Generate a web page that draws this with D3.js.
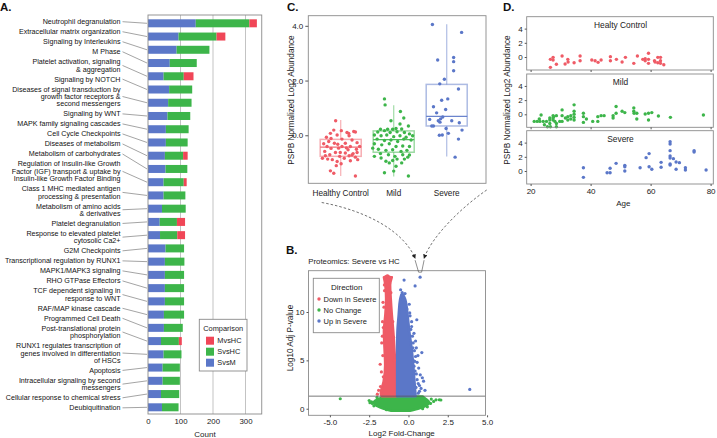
<!DOCTYPE html>
<html><head><meta charset="utf-8">
<script src="https://cdn.jsdelivr.net/npm/d3@7"></script>
<style>
body{margin:0;background:#fff;}
svg{display:block;}
</style></head><body>
<svg id="chart" width="717" height="438"></svg>
<script>
// ================= DATA =================
// Panel A: Reactome pathways, stacked counts per comparison
const pathways = [
  "Neutrophil degranulation",
  "Extracellular matrix organization",
  "Signaling by Interleukins",
  "M Phase",
  "Platelet activation, signaling\n& aggregation",
  "Signaling by NOTCH",
  "Diseases of signal transduction by\ngrowth factor receptors &\nsecond messengers",
  "Signaling by WNT",
  "MAPK family signaling cascades",
  "Cell Cycle Checkpoints",
  "Diseases of metabolism",
  "Metabolism of carbohydrates",
  "Regulation of Insulin-like Growth\nFactor (IGF) transport & uptake by\nInsulin-like Growth Factor Binding",
  "Class 1 MHC mediated antigen\nprocessing & presentation",
  "Metabolism of amino acids\n& derivatives",
  "Platelet degranulation",
  "Response to elevated platelet\ncytosolic Ca2+",
  "G2M Checkpoints",
  "Transcriptional regulation by RUNX1",
  "MAPK1/MAPK3 signaling",
  "RHO GTPase Effectors",
  "TCF dependent signaling in\nresponse to WNT",
  "RAF/MAP kinase cascade",
  "Programmed Cell Death",
  "Post-translational protein\nphosphorylation",
  "RUNX1 regulates transcription of\ngenes involved in differentiation\nof HSCs",
  "Apoptosis",
  "Intracellular signaling by second\nmessengers",
  "Cellular response to chemical stress",
  "Deubiquitination"
];
const svsM  = [147,94,88,67,48,65,62,60,55,55,52,54,48,48,43,36,37,54,52,52,52,52,49,49,40,48,45,45,40,43];
const svsHC = [165,117,101,83,62,71,72,70,70,67,56,67,62,67,73,53,53,57,60,59,59,59,62,58,55,55,53,53,56,51];
const mvsHC = [23,27,0,0,30,0,0,0,0,0,14,0,9,0,0,25,24,0,0,0,0,0,0,0,9,0,0,0,0,0];
const countTicks = [0,100,200,300];
const comparisons = ["MvsHC","SvsHC","SvsM"];

// Panel C: PSPB abundance by severity group
const groups = ["Healthy Control","Mild","Severe"];
const boxQ1 = [-0.77,-0.62,0.34];
const boxMedian = [-0.43,-0.16,0.69];
const boxQ3 = [-0.15,0.16,1.86];
const whiskerLo = [-1.49,-1.51,-0.78];
const whiskerHi = [0.56,1.10,4.06];
const hcVals = [0.53,0.17,0.10,0.14,0.12,0.19,-0.07,-0.12,0.01,-0.02,-0.14,-0.17,-0.27,-0.23,-0.31,-0.29,-0.33,-0.29,-0.41,-0.41,-0.48,-0.47,-0.41,-0.53,-0.51,-0.59,-0.63,-0.65,-0.67,-0.71,-0.77,-0.75,-0.80,-0.87,-0.89,-0.96,-0.84,-0.93,-0.89,-0.84,-1.04,-1.11,-1.30,-1.39,-1.49,0.07,0.07,-0.72,-0.75,-0.46,-0.63,-0.63,-0.41];
const hcJit  = [-0.24,0.03,0.30,0.62,0.70,-0.33,-0.68,-0.46,-0.17,0.40,0.06,0.54,0.78,-0.57,-0.81,-0.30,-0.14,0.22,0.46,-0.65,-0.46,-0.10,0.06,0.35,0.75,-0.76,-0.25,0.22,0.59,-0.52,-0.05,0.40,0.70,-0.62,-0.40,-0.17,0.17,0.46,0.81,-0.87,0.02,-0.21,-0.49,-0.33,0.70,0.38,-0.49,0.54,-0.73,0.27,0.78,-0.02,0.90];
const mildVals = [1.33,1.11,0.87,0.53,0.63,0.41,0.34,0.25,0.23,0.22,0.22,0.22,0.12,0.17,0.10,0.13,0.10,0.05,0.01,-0.02,0.01,-0.05,-0.02,-0.07,-0.02,-0.14,-0.19,-0.17,-0.23,-0.14,-0.17,-0.31,-0.35,-0.31,-0.41,-0.39,-0.41,-0.47,-0.51,-0.55,-0.53,-0.59,-0.55,-0.67,-0.71,-0.77,-0.71,-0.72,-0.77,-0.87,-0.87,-0.95,-0.92,-0.80,-1.01,-1.13,-1.31,-1.37,-1.49,-1.01,-0.83];
const mildJit  = [-0.44,-0.41,0.32,-0.13,0.48,0.30,0.70,0.11,0.38,-0.29,-0.05,-0.63,-0.76,-0.44,-0.17,0.16,0.51,0.75,-0.92,-0.60,-0.33,0,0.30,0.59,0.90,-0.79,-0.44,-0.13,0.19,0.48,0.83,-0.92,-0.57,-0.21,0.11,0.43,0.75,-1.0,-0.73,-0.37,-0.05,0.35,0.63,-0.63,-0.25,0.06,0.43,0.75,-0.92,0.51,0.16,-0.37,-0.05,0.67,0.38,0.11,0,-0.44,0.70,-0.21,-0.60];
const sevVals = [4.05,3.76,2.75,2.84,2.69,2.36,2.05,1.88,1.69,1.28,1.33,1.04,0.94,0.82,0.67,0.60,0.53,0.53,0.34,0.34,0.48,0.46,0.25,0.19,0.58,0.07,0.01,0.00,-0.14,-0.80];
const sevJit  = [-0.68,0.71,-0.43,0.33,0.33,0.33,-0.11,-0.33,0.56,-0.24,0.05,-0.63,-0.05,-0.48,-0.19,-0.29,0.24,-0.40,-0.63,-0.71,-0.32,0.60,-0.03,0.73,-0.81,0.08,-0.21,-0.35,0.56,0.40];
const abundTicks = [0,2,4];

// Panel B: volcano plot (dense cores as envelopes read per -log10 p level, plus sparse points)
const redEnvY  = [1.3,1.6,2.8,4.5,6.2,8.0,9.7,11.4,12.8,13.6];
const redEnvLo = [-1.70,-1.76,-1.58,-1.48,-1.52,-1.56,-1.47,-1.42,-1.47,-1.56];
const redEnvHi = [-0.80,-0.80,-0.80,-0.84,-0.90,-0.97,-1.06,-1.13,-1.17,-1.06];
const blueEnvY  = [1.3,2.8,4.5,6.2,8.0,9.7,11.3,11.8];
const blueEnvLo = [-0.72,-0.72,-0.72,-0.72,-0.70,-0.62,-0.53,-0.45];
const blueEnvHi = [0.45,0.38,0.30,0.20,0.05,-0.06,-0.21,-0.35];
const greenEnvY  = [-0.2,0.05,0.4,0.7,1.0,1.25];
const greenEnvLo = [-1.1,-1.65,-2.1,-2.2,-1.9,-1.6];
const greenEnvHi = [0.1,0.7,1.2,1.3,1.1,0.9];
const redPtsFC = [-1.80,-1.65,-1.62,-1.70,-1.30,-1.45,-1.20,-1.90,-1.98,-1.60,-1.52,-1.66,-1.63,-1.72,-1.78,-1.56,-1.53,-0.90,-0.95,-1.00,-1.60,-1.12,-1.36];
const redPtsP  = [4.6,9.0,11.0,6.8,13.7,13.65,13.6,1.9,1.5,3.3,12.2,7.5,5.5,3.8,2.3,10.5,12.8,5.0,7.4,9.0,8.4,12.0,13.75];
const bluePtsFC = [-0.28,0.42,0.74,-0.35,-0.30,0.05,-0.10,0.53,0.20,0.35,0.45,0.85,0.60,0.50,0.42,0.65,0.96,0.80,3.90,1.05,0.75,0.30,0.55,0.62,0.70,0.15,0.25,0.30,0.38,0.45,0.35,0.50,0.55,0.62,0.70,0.48,0.20,0.10,0.28,0.40,-0.40,-0.22,0.08,-0.5,0.88];
const bluePtsP  = [13.3,12.7,13.6,11.5,11.0,10.8,10.3,9.2,8.5,7.8,7.0,5.8,5.5,6.3,3.9,4.2,2.85,2.1,2.0,1.9,3.5,5.0,4.8,1.6,2.4,8.2,7.5,6.8,6.0,5.4,4.4,3.6,3.0,2.6,1.8,2.2,9.0,9.6,6.3,4.9,12.0,11.9,9.9,12.3,3.2];
const greenPtsFC = [-4.34,1.96,2.06,1.45,-2.35,-2.30,1.60,-2.45,1.75,-2.0,1.40,-2.2,1.2,-1.4,0.9,-2.5];
const greenPtsP  = [1.03,0.93,0.90,1.00,0.70,0.55,0.75,0.62,0.92,1.15,0.55,0.3,0.2,-0.1,0.0,0.85];
const fcTicks = [-5,-2.5,0,2.5,5];
const pTicks = [0,5,10];
const pThreshold = 1.3;
const directions = ["Down in Severe","No Change","Up in Severe"];
const pspb = {fc:0.74, p:13.6};

// Panel D: PSPB abundance vs age, per group
const hcAge = [26.6,26.6,27.5,27.5,28.6,30.5,31.5,32.4,32.5,34.5,36.5,36.5,40.4,41.5,42.5,43.5,46.6,46.6,48.6,50.5,51.6,54.4,55.6,57.4,58.2,58.2,59.3,59.3,59.3,61.3,61.5,62.4,62.4,63.3,63.3,63.3,64.4];
const hcAbund = [-1.46,-0.33,-0.05,-0.42,-1.03,0.14,-0.99,-0.33,-0.7,-0.8,0.14,-0.52,-0.42,-0.52,-0.75,-0.42,0.05,-0.52,-0.33,-0.7,-0.05,-0.89,0.14,-0.33,-0.23,-0.52,0.52,-0.33,-0.89,-0.52,-0.7,-0.05,-0.8,-0.05,-0.52,-0.89,-1.08];
const mildAge = [21.2,22.2,22.9,23.1,23.5,24.2,24.6,25.3,25.6,26.4,26.4,26.4,26.6,27.5,27.5,27.5,27.7,28.1,28.6,28.6,28.6,29.7,30.5,30.5,30.5,31.6,32.4,32.4,33.4,33.4,34.5,34.5,34.5,34.5,34.5,37.6,37.6,37.6,38.6,40.7,42.4,42.4,43.5,44.5,47.5,47.5,48.5,48.5,50.5,51.4,54.4,54.4,54.5,55.4,55.4,58.2,59.3,59.3,60.4,62.6,66.6,77.6];
const mildAbund = [-1.0,-1.0,-0.67,-1.0,-0.1,-1.0,-1.48,-1.0,-1.76,-0.52,-0.81,-1.29,-1.76,-0.19,-0.52,-0.81,-0.33,-1.0,-1.76,-1.29,-0.19,-1.0,0.62,-0.19,-1.0,-0.52,-0.33,-0.81,-0.19,-0.67,1.33,0.43,0.0,-0.43,-0.81,0.14,-0.33,-1.14,-0.67,-1.0,-0.33,-1.0,-0.19,-0.19,-0.52,-0.19,1.1,0.14,0.43,0.24,0.9,0.43,0.14,-0.67,0.14,0.05,0.14,-0.81,0.24,-0.24,-0.43,-0.1];
const sevAge = [37.6,37.6,45.5,46.5,46.5,48.5,51.4,51.4,51.4,56.5,58.5,59.5,59.5,60.4,63.5,63.5,66.5,66.5,66.5,66.5,66.5,66.5,66.5,67.6,68.5,68.5,69.6,71.6,71.6,74.5,74.5,78.5];
const sevAbund = [0.47,-0.89,-0.24,0.38,-0.24,1.08,0.8,0.61,0.0,0.47,1.88,2.45,0.61,0.24,1.22,0.52,4.14,3.81,2.87,2.12,1.84,0.99,0.85,1.74,1.27,0.24,1.18,0.47,0.14,2.87,2.68,0.14];
const facetTitles = ["Healty Control","Mild","Severe"];
const ageTicks = [20,40,60,80];

// ================= DRAWING =================
const FF = '"Liberation Sans", Arial, Helvetica, sans-serif';
const svg = d3.select("#chart").attr("font-family", FF);
const RED = "#F04657", GREEN = "#3DB54A", BLUE = "#5B77C8";
const PRED = "#EF5B66";
const FRAME = "#8a8a8a";

function tidyAxis(g, fs){
  g.attr("font-family", FF).attr("font-size", fs);
  g.select(".domain").remove();
  g.selectAll(".tick line").attr("stroke", "#555");
  g.selectAll(".tick text").attr("fill", "#222");
}
function panelLetter(t, x, y){
  svg.append("text").attr("x",x).attr("y",y).text(t)
    .attr("font-size",11.5).attr("font-weight","bold").attr("fill","#111");
}

// ---------- Panel A ----------
const A = {left:148, right:261.75, top:15, bottom:414};
const xA = d3.scaleLinear().domain([0,350]).range([A.left, A.right]);
const yA = d3.scalePoint().domain(pathways).range([23.3, 407.3]);
const gA = svg.append("g");
gA.selectAll("line.gridA").data(countTicks.filter(d=>d>0)).join("line")
  .attr("x1",d=>xA(d)).attr("x2",d=>xA(d)).attr("y1",A.top).attr("y2",A.bottom)
  .attr("stroke","#b4b4b4").attr("stroke-width",0.8);
const rowsA = pathways.map((p,i)=>({pathway:p, SvsM:svsM[i], SvsHC:svsHC[i], MvsHC:mvsHC[i]}));
const colorA = {SvsM:BLUE, SvsHC:GREEN, MvsHC:RED};
const stackedA = d3.stack().keys(["SvsM","SvsHC","MvsHC"])(rowsA);
gA.selectAll("g.series").data(stackedA).join("g").attr("fill", d=>colorA[d.key])
  .selectAll("rect").data(d=>d).join("rect")
  .attr("x", d=>xA(d[0])).attr("width", d=>Math.max(0, xA(d[1])-xA(d[0])))
  .attr("y", d=>yA(d.data.pathway)-4).attr("height", 8);
gA.append("rect").attr("x",A.left).attr("y",A.top).attr("width",A.right-A.left).attr("height",A.bottom-A.top)
  .attr("fill","none").attr("stroke",FRAME).attr("stroke-width",0.9);
gA.append("g").attr("transform",`translate(0,${A.bottom})`)
  .call(d3.axisBottom(xA).tickValues(countTicks).tickSize(0).tickPadding(4))
  .call(g=>tidyAxis(g,7.8));
gA.append("text").attr("x",205).attr("y",436.5).attr("text-anchor","middle")
  .attr("font-size",8).attr("fill","#222").text("Count");

// pathway labels with leader lines
const LH = 7.35, GAP = 2.67;
let ly = 21.7;
const gLab = gA.append("g");
pathways.forEach(p=>{
  const lines = p.split("\n");
  const mid = ly + (lines.length-1)*LH/2;
  const t = gLab.append("text").attr("text-anchor","end").attr("font-size",7.15).attr("fill","#111");
  lines.forEach((s,k)=>{
    t.append("tspan").attr("x",120.5).attr("y",ly + k*LH).attr("dy","0.35em").text(s);
  });
  gLab.append("line").attr("x1",122.5).attr("y1",mid).attr("x2",A.left-1).attr("y2",yA(p))
    .attr("stroke","#666").attr("stroke-width",0.6);
  ly += lines.length*LH + GAP;
});

// legend A
const gLA = gA.append("g");
gLA.append("rect").attr("x",199.3).attr("y",319.3).attr("width",47.7).attr("height",51.7)
  .attr("fill","#fff").attr("stroke",FRAME).attr("stroke-width",0.9);
gLA.append("text").attr("x",223.2).attr("y",331).attr("text-anchor","middle")
  .attr("font-size",7.4).attr("fill","#222").text("Comparison");
comparisons.forEach((c,i)=>{
  const cy = 340.7 + i*11;
  gLA.append("rect").attr("x",206).attr("y",cy-4).attr("width",8).attr("height",8).attr("fill",colorA[c]);
  gLA.append("text").attr("x",217.3).attr("y",cy).attr("dy","0.35em").attr("font-size",7.4).attr("fill","#222").text(c);
});
panelLetter("A.", 0, 11);

// ---------- Panel C ----------
const C = {left:308.3, right:486, top:15.7, bottom:183.3};
const yC = d3.scaleLinear().domain([-1.755, 4.37]).range([C.bottom, C.top]);
const xC = d3.scalePoint().domain(groups).range([340.7, 446.7]);
const gC = svg.append("g");
const groupColor = [PRED, GREEN, BLUE];
const groupVals = [hcVals, mildVals, sevVals];
const groupJit = [hcJit, mildJit, sevJit];
groups.forEach((g,i)=>{
  const cx = xC(g), col = groupColor[i];
  const bw = 41;
  const bg = gC.append("g").attr("stroke",col).attr("fill","none");
  bg.append("line").attr("x1",cx).attr("x2",cx).attr("y1",yC(boxQ3[i])).attr("y2",yC(whiskerHi[i]))
    .attr("stroke-opacity",0.45).attr("stroke-width",1.3);
  bg.append("line").attr("x1",cx).attr("x2",cx).attr("y1",yC(boxQ1[i])).attr("y2",yC(whiskerLo[i]))
    .attr("stroke-opacity",0.45).attr("stroke-width",1.3);
  bg.append("rect").attr("x",cx-bw/2).attr("width",bw).attr("y",yC(boxQ3[i])).attr("height",yC(boxQ1[i])-yC(boxQ3[i]))
    .attr("stroke-opacity",0.5).attr("stroke-width",1.5);
  bg.append("line").attr("x1",cx-bw/2).attr("x2",cx+bw/2).attr("y1",yC(boxMedian[i])).attr("y2",yC(boxMedian[i]))
    .attr("stroke-opacity",0.9).attr("stroke-width",1.3);
  gC.append("g").selectAll("circle").data(groupVals[i]).join("circle")
    .attr("cx",(d,k)=>cx + groupJit[i][k]*21).attr("cy",d=>yC(d)).attr("r",1.7).attr("fill",col);
});
gC.append("rect").attr("x",C.left).attr("y",C.top).attr("width",C.right-C.left).attr("height",C.bottom-C.top)
  .attr("fill","none").attr("stroke",FRAME).attr("stroke-width",0.9);
gC.append("g").attr("transform",`translate(${C.left},0)`)
  .call(d3.axisLeft(yC).tickValues(abundTicks).tickSize(3).tickPadding(2))
  .call(g=>tidyAxis(g,8));
gC.selectAll("text.cat").data(groups).join("text").attr("class","cat")
  .attr("x",d=>xC(d)).attr("y",195.8).attr("text-anchor","middle").attr("font-size",8.2).attr("fill","#222").text(d=>d);
gC.append("text").attr("transform","translate(293.6,100) rotate(-90)").attr("text-anchor","middle")
  .attr("font-size",8.2).attr("fill","#222").text("PSPB Normalized Log2 Abundance");
panelLetter("C.", 287, 10.5);

// ---------- Panel B ----------
const B = {left:308.5, right:485.5, top:270.7, bottom:415.3};
const xB = d3.scaleLinear().domain([-6.36, 4.90]).range([B.left, B.right]);
const yB = d3.scaleLinear().domain([-0.68, 14.27]).range([B.bottom, B.top]);
const gB = svg.append("g");
function envArea(Y, LO, HI){
  return Y.map((y,i)=>({y, lo:LO[i], hi:HI[i]}));
}
const areaB = d3.area().y(d=>yB(d.y)).x0(d=>xB(d.lo)).x1(d=>xB(d.hi)).curve(d3.curveMonotoneY);
[[envArea(greenEnvY,greenEnvLo,greenEnvHi),GREEN],
 [envArea(redEnvY,redEnvLo,redEnvHi),PRED],
 [envArea(blueEnvY,blueEnvLo,blueEnvHi),BLUE]].forEach(([dat,col])=>{
  gB.append("path").datum(dat).attr("d",areaB).attr("fill",col)
    .attr("stroke",col).attr("stroke-width",2.6).attr("stroke-linejoin","round");
});
function dots(FC, P, col){
  gB.append("g").selectAll("circle").data(FC).join("circle")
    .attr("cx",d=>xB(d)).attr("cy",(d,i)=>yB(P[i])).attr("r",1.6).attr("fill",col);
}
dots(greenPtsFC, greenPtsP, GREEN);
dots(redPtsFC, redPtsP, PRED);
dots(bluePtsFC, bluePtsP, BLUE);
gB.append("line").attr("x1",B.left).attr("x2",B.right).attr("y1",yB(pThreshold)).attr("y2",yB(pThreshold))
  .attr("stroke","#555").attr("stroke-width",0.8);
gB.append("rect").attr("x",B.left).attr("y",B.top).attr("width",B.right-B.left).attr("height",B.bottom-B.top)
  .attr("fill","none").attr("stroke",FRAME).attr("stroke-width",0.9);
gB.append("g").attr("transform",`translate(0,${B.bottom})`)
  .call(d3.axisBottom(xB).tickValues(fcTicks).tickFormat(d=>d.toFixed(1)).tickSize(2).tickPadding(2))
  .call(g=>tidyAxis(g,8));
gB.append("g").attr("transform",`translate(${B.left},0)`)
  .call(d3.axisLeft(yB).tickValues(pTicks).tickSize(2).tickPadding(2))
  .call(g=>tidyAxis(g,8));
gB.append("text").attr("x",401.7).attr("y",436.3).attr("text-anchor","middle")
  .attr("font-size",8).attr("fill","#222").text("Log2 Fold-Change");
gB.append("text").attr("transform","translate(293,338) rotate(-90)").attr("text-anchor","middle")
  .attr("font-size",8.2).attr("fill","#222").text("Log10 Adj P-value");
gB.append("text").attr("x",308.3).attr("y",263.8).attr("font-size",7.8).attr("fill","#222")
  .text("Proteomics: Severe vs HC");
// legend B
const gLB = gB.append("g");
gLB.append("rect").attr("x",313.3).attr("y",278.3).attr("width",66).attr("height",54.4)
  .attr("fill","#fff").attr("stroke",FRAME).attr("stroke-width",0.9);
gLB.append("text").attr("x",346.7).attr("y",290.3).attr("text-anchor","middle")
  .attr("font-size",8).attr("fill","#222").text("Direction");
const dirColor = [PRED, GREEN, BLUE];
directions.forEach((d,i)=>{
  const cy = 299 + i*11;
  gLB.append("circle").attr("cx",319).attr("cy",cy).attr("r",1.7).attr("fill",dirColor[i]);
  gLB.append("text").attr("x",323.5).attr("y",cy).attr("dy","0.35em").attr("font-size",7.5).attr("fill","#222").text(d);
});
panelLetter("B.", 286, 253.5);

// dashed connectors from panel C groups to PSPB point in volcano
const defs = svg.append("defs");
defs.append("marker").attr("id","ah").attr("viewBox","0 0 6 6").attr("refX",5).attr("refY",3)
  .attr("markerWidth",4.5).attr("markerHeight",4.5).attr("markerUnits","userSpaceOnUse").attr("orient","auto")
  .append("path").attr("d","M0,0L6,3L0,6Z").attr("fill","#222");
const tx = xB(pspb.fc), ty = yB(pspb.p);
const pL = d3.path();
pL.moveTo(xC(groups[0])-19, 202.5);
pL.bezierCurveTo(368, 211, 404, 232, tx-5, ty-19);
const pR = d3.path();
pR.moveTo(xC(groups[2])+40, 190);
pR.bezierCurveTo(462, 207, 432, 236, tx+4, ty-19);
[pL, pR].forEach(p=>{
  svg.append("path").attr("d",p.toString()).attr("fill","none").attr("stroke","#333")
    .attr("stroke-width",0.7).attr("stroke-dasharray","2.5,2").attr("marker-end","url(#ah)");
});
svg.append("path").attr("d",`M${tx-5},${ty-17}L${tx-1.5},${ty-5}L${tx+1.5},${ty-5}L${tx+4},${ty-17}`)
  .attr("fill","none").attr("stroke","#444").attr("stroke-width",0.6);

// ---------- Panel D ----------
const D = {left:526.7, right:713.3, tops:[16.7,74,130.7], h:53.3};
const xD = d3.scaleLinear().domain([18.7, 80.9]).range([D.left, D.right]);
const yD = d3.scaleLinear().domain([-1.83, 5.68]).range([D.h, 0]);
const dAges = [hcAge, mildAge, sevAge], dAb = [hcAbund, mildAbund, sevAbund];
const dCol = [PRED, GREEN, BLUE];
facetTitles.forEach((t,i)=>{
  const g = svg.append("g").attr("transform",`translate(0,${D.tops[i]})`);
  g.append("text").attr("x",620.5).attr("y",8.3).attr("dy","0.35em").attr("text-anchor","middle")
    .attr("font-size",8.4).attr("fill","#222").text(t);
  g.append("g").selectAll("circle").data(dAges[i]).join("circle")
    .attr("cx",d=>xD(d)).attr("cy",(d,k)=>yD(dAb[i][k])).attr("r",1.7).attr("fill",dCol[i]);
  g.append("rect").attr("x",D.left).attr("y",0).attr("width",D.right-D.left).attr("height",D.h)
    .attr("fill","none").attr("stroke",FRAME).attr("stroke-width",0.9);
  g.append("g").attr("transform",`translate(${D.left},0)`)
    .call(d3.axisLeft(yD).tickValues(abundTicks).tickSize(2).tickPadding(2))
    .call(gg=>tidyAxis(gg,8));
  const ax = d3.axisBottom(xD).tickValues(ageTicks).tickSize(2).tickPadding(2);
  if (i < 2) ax.tickFormat("");
  g.append("g").attr("transform",`translate(0,${D.h})`).call(ax).call(gg=>tidyAxis(gg,8));
});
svg.append("text").attr("x",623.3).attr("y",205.5).attr("text-anchor","middle")
  .attr("font-size",8).attr("fill","#222").text("Age");
svg.append("text").attr("transform","translate(510.3,100) rotate(-90)").attr("text-anchor","middle")
  .attr("font-size",8.2).attr("fill","#222").text("PSPB Normalized Log2 Abundance");
panelLetter("D.", 503, 10.5);
</script>
</body></html>
